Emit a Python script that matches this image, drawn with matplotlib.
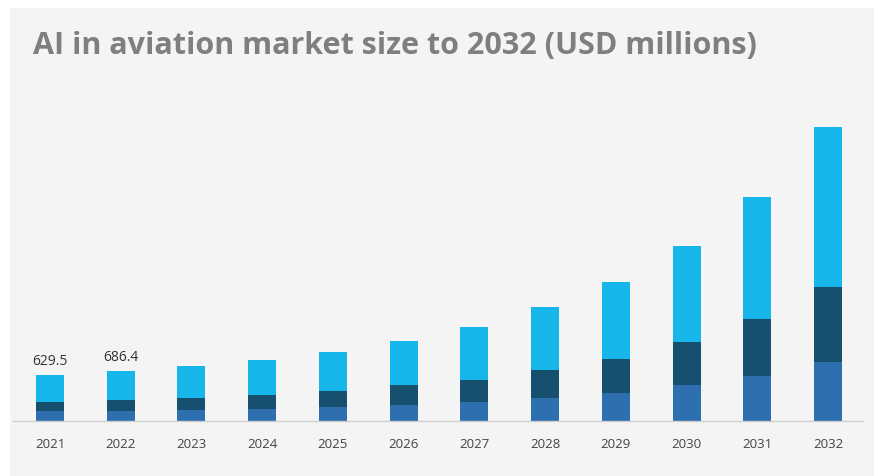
import matplotlib
matplotlib.use("Agg")
import matplotlib.pyplot as plt
from matplotlib.patches import Rectangle
import numpy as np

years = ["2021", "2022", "2023", "2024", "2025", "2026", "2027", "2028",
         "2029", "2030", "2031", "2032"]
seg_bottom = [137, 137, 151, 164, 192, 219, 260, 315, 384, 493, 617, 808]
seg_middle = [123, 151, 164, 192, 219, 274, 301, 384, 466, 589, 781, 1028]
seg_top = [369.5, 398.4, 438, 480, 534, 603, 726, 863, 1055, 1315, 1671, 2192]
label_values = {0: "629.5", 1: "686.4"}

c_bottom = "#2e6fb0"
c_middle = "#17506f"
c_top = "#16b6ea"

fig = plt.figure(figsize=(8.74, 4.76), dpi=100)
fig.patch.set_facecolor("white")
fig.patches.append(Rectangle((10 / 874, 0), 1, 1 - 8 / 476, transform=fig.transFigure,
                             facecolor="#f4f4f4", edgecolor="none", zorder=-10))

ax = fig.add_axes([13 / 874, 55 / 476, 850 / 874, 321 / 476])
ax.set_zorder(2)
ax.set_facecolor("none")
x = np.arange(len(years))
b = np.array(seg_bottom)
m = np.array(seg_middle)
t = np.array(seg_top)
w = 0.396
ax.bar(x, b, width=w, color=c_bottom, zorder=2)
ax.bar(x, m, width=w, bottom=b, color=c_middle, zorder=2)
ax.bar(x, t, width=w, bottom=b + m, color=c_top, zorder=2)

totals = b + m + t
for i, s in label_values.items():
    ax.text(x[i], totals[i] + 80, s, ha="center", va="bottom",
            fontsize=10, color="#333333", family="Open Sans")

ax.set_xlim(-0.523, 11.495)
ax.set_ylim(0, 321 * 13.7)
ax.set_xticks(x)
ax.set_xticklabels(years, fontsize=9.5, color="#444444", family="Open Sans")
ax.tick_params(axis="x", length=0, pad=12)
ax.set_yticks([])
for s in ["top", "left", "right"]:
    ax.spines[s].set_visible(False)
ax.spines["bottom"].set_color("#cfcfcf")
ax.spines["bottom"].set_linewidth(1.0)

fig.text(33 / 874, 1 - 46 / 476, "AI in aviation market size to 2032 (USD millions)",
         ha="left", va="center", fontsize=22, fontweight="bold",
         color="#7f7f7f", family="Open Sans", zorder=3)

fig.savefig("out.png", dpi=100, facecolor=fig.get_facecolor())
